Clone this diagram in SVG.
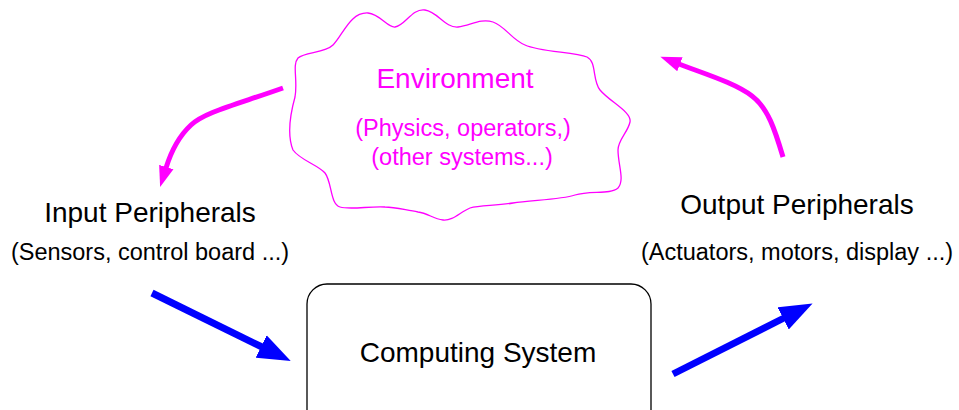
<svg xmlns="http://www.w3.org/2000/svg" width="959" height="410" viewBox="0 0 959 410">
<style>
text{font-family:"Liberation Sans",Arial,sans-serif;text-anchor:middle}
.t{font-size:28px;fill:#000}
.s{font-size:23.5px;fill:#000}
.m{fill:#ff00ff}
.cloud{fill:none;stroke:#ff00ff;stroke-width:1.3}
.box{fill:#fff;stroke:#000;stroke-width:1.3}
.ma{fill:none;stroke:#ff00ff;stroke-width:5}
.ba{fill:none;stroke:#0000ff;stroke-width:7}
</style>
<defs>
<marker id="mh" markerUnits="userSpaceOnUse" viewBox="0 -8 21 16" refX="1" refY="0" markerWidth="21" markerHeight="16" orient="auto"><path d="M0,-7.5 L21,0 L0,7.5 Z" fill="#ff00ff"/></marker>
<marker id="bh" markerUnits="userSpaceOnUse" viewBox="0 -13 33 26" refX="1" refY="0" markerWidth="33" markerHeight="26" orient="auto"><path d="M0,-12.5 L33,0 L0,12.5 Z" fill="#0000ff"/></marker>
</defs>
<g id="environment">
<path class="cloud" d="M293,150 C287,135 290,115 295,97 C298,80 292,65 298,58 C305,52 325,53 333,45 C343,35 350,12 368,13 C380,14 388,28 395,27 C405,26 412,8 425,10 C438,12 445,28 458,27 C470,26 480,18 493,22 C505,26 512,40 525,45 C540,52 575,52 587,57 C597,62 592,80 600,90 C610,102 632,112 630,122 C628,132 618,140 618,150 C618,165 625,180 618,188 C610,195 590,190 575,195 C560,200 530,200 513,203 C495,206 480,205 470,208 C460,212 453,221 443,220 C433,219 428,213 418,212 C405,210 395,207 385,207 C370,206 350,210 340,207 C330,204 332,182 325,173 C318,165 300,160 293,150 Z"/>
<text class="m" x="455" y="88" font-size="28">Environment</text>
<text class="m" x="463" y="136" font-size="23.5">(Physics, operators,)</text>
<text class="m" x="462" y="165" font-size="23.5">(other systems...)</text>
</g>
<g id="input">
<text class="t" x="150" y="222">Input Peripherals</text>
<text class="s" x="150" y="260">(Sensors, control board ...)</text>
</g>
<g id="output">
<text class="t" x="797" y="214">Output Peripherals</text>
<text class="s" x="797" y="260">(Actuators, motors, display ...)</text>
</g>
<g id="computing">
<rect class="box" x="307" y="284" width="344" height="150" rx="20" ry="20"/>
<text class="t" x="478" y="362">Computing System</text>
</g>
<g id="connectors">
<path class="ma" d="M283,88 C235,105 205,112 191,125 C178,137 170,155 166,168" marker-end="url(#mh)"/>
<path class="ma" d="M783,157 C775,130 768,108 752,96 C735,83 705,74 679,64" marker-end="url(#mh)"/>
<path class="ba" d="M152,293 L262,347" marker-end="url(#bh)"/>
<path class="ba" d="M673,374 L784,318" marker-end="url(#bh)"/>
</g>
</svg>
